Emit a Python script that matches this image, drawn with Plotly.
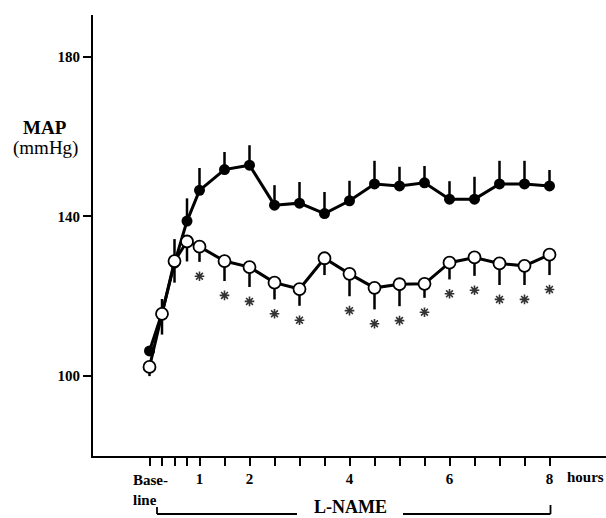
import plotly.graph_objects as go

# ---- data ----
hours = [0, 0.25, 0.5, 0.75, 1, 1.5, 2, 2.5, 3, 3.5, 4, 4.5, 5, 5.5, 6, 6.5, 7, 7.5, 8]
solid_map = [106.3, 115.8, 128.3, 138.8, 146.5, 151.7, 152.8, 142.8, 143.3, 140.7,
             143.9, 148.1, 147.6, 148.4, 144.3, 144.3, 148.1, 148.1, 147.6]
solid_sem = [1.0, 3.5, 6.0, 5.7, 5.6, 4.4, 5.0, 5.0, 5.3, 5.4,
             5.0, 5.8, 4.8, 4.2, 4.5, 5.6, 5.8, 5.8, 4.0]
open_map = [102.3, 115.6, 128.8, 133.7, 132.4, 128.8, 127.3, 123.4, 121.8, 129.5,
            125.6, 122.1, 123.0, 123.1, 128.4, 129.7, 128.2, 127.6, 130.4]
open_sem = [2.3, 5.2, 5.4, 5.0, 3.8, 5.0, 5.0, 4.2, 4.2, 4.2,
            5.6, 5.4, 5.5, 3.5, 4.2, 4.6, 5.4, 4.8, 5.1]
significant = [False, False, False, False, True, True, True, True, True, False,
               True, True, True, True, True, True, True, True, True]
tick_labels = ['', '', '', '', '1', '', '2', '', '', '', '4', '', '', '', '6', '', '', '', '8']
y_ticks = [100, 140, 180]
lname_start, lname_end = 0.15, 8.0

FONT = "Liberation Serif"
n = len(hours)

fig = go.Figure()

fig.add_trace(go.Scatter(
    x=hours, y=solid_map, mode='lines+markers',
    line=dict(color='black', width=3),
    marker=dict(symbol='circle', size=11, color='black'),
    error_y=dict(type='data', symmetric=False, array=solid_sem, arrayminus=[0] * n,
                 width=0, thickness=2.5, color='black'),
    showlegend=False, hoverinfo='skip'))

fig.add_trace(go.Scatter(
    x=hours, y=open_map, mode='lines+markers',
    line=dict(color='black', width=3),
    marker=dict(symbol='circle', size=12, color='white', line=dict(color='black', width=1.8)),
    error_y=dict(type='data', symmetric=False, array=[0] * n, arrayminus=open_sem,
                 width=0, thickness=2.5, color='black'),
    showlegend=False, hoverinfo='skip'))

ast_x = [h for h, s in zip(hours, significant) if s]
ast_y = [v - e - 3.6 for v, e, s in zip(open_map, open_sem, significant) if s]
fig.add_trace(go.Scatter(
    x=ast_x, y=ast_y, mode='markers',
    marker=dict(symbol='asterisk-open', size=8, color='#333', line=dict(color='#333', width=1.6)),
    showlegend=False, hoverinfo='skip'))

W, H, T, B, L = 606, 518, 15, 62, 93
ph = H - T - B
pw = W - L


def py(p):
    return (H - B - p) / ph


def px(p):
    return (p - L) / pw


shapes = [
    dict(type='line', xref='x', yref='paper', x0=lname_start, x1=2.95, y0=py(514), y1=py(514),
         line=dict(color='black', width=1.8)),
    dict(type='line', xref='x', yref='paper', x0=lname_start, x1=lname_start, y0=py(507), y1=py(514),
         line=dict(color='black', width=1.8)),
    dict(type='line', xref='x', yref='paper', x0=5.07, x1=lname_end + 0.02, y0=py(514), y1=py(514),
         line=dict(color='black', width=1.8)),
    dict(type='line', xref='x', yref='paper', x0=lname_end + 0.02, x1=lname_end + 0.02, y0=py(505), y1=py(514),
         line=dict(color='black', width=1.8)),
]

annotations = [
    dict(text='<b>MAP</b>', xref='paper', yref='paper', x=px(45), y=py(127),
         showarrow=False, font=dict(family=FONT, size=19, color='black'), xanchor='center', yanchor='middle'),
    dict(text='(mmHg)', xref='paper', yref='paper', x=px(45), y=py(148),
         showarrow=False, font=dict(family=FONT, size=19, color='black'), xanchor='center', yanchor='middle'),
    dict(text='<b>Base-</b><br><b>line</b>', xref='x', yref='paper', x=-0.37, y=py(470),
         showarrow=False, font=dict(family=FONT, size=15, color='black'), xanchor='left', yanchor='top',
         align='left'),
    dict(text='<b>hours</b>', xref='x', yref='paper', x=8.71, y=py(477),
         showarrow=False, font=dict(family=FONT, size=15, color='black'), xanchor='center', yanchor='middle'),
    dict(text='<b>L-NAME</b>', xref='x', yref='paper', x=4.01, y=py(518), borderpad=0,
         showarrow=False, font=dict(family=FONT, size=18, color='black'), xanchor='center', yanchor='bottom'),
]

fig.update_layout(
    width=W, height=H,
    margin=dict(l=L, r=0, t=T, b=B),
    plot_bgcolor='white', paper_bgcolor='white',
    font=dict(family=FONT, color='black'),
    shapes=shapes, annotations=annotations,
    xaxis=dict(range=[-1.13, 9.13], showgrid=False, zeroline=False,
               showline=True, linecolor='black', linewidth=2,
               ticks='outside', ticklen=8, tickwidth=2, tickcolor='black',
               tickvals=hours, ticktext=['<b>%s</b>' % t if t else '' for t in tick_labels],
               tickfont=dict(family=FONT, size=15, color='black')),
    yaxis=dict(range=[80, 190.4], showgrid=False, zeroline=False,
               showline=True, linecolor='black', linewidth=2,
               ticks='outside', ticklen=8, tickwidth=2, tickcolor='black',
               tickvals=y_ticks, ticktext=['<b>%d</b>' % v for v in y_ticks],
               tickfont=dict(family=FONT, size=15, color='black')),
)

fig.write_html(
    "out.html",
    config={'displayModeBar': False},
    post_script="document.body.style.margin='0';document.body.style.overflow='hidden';"
                "document.documentElement.style.overflow='hidden';")
